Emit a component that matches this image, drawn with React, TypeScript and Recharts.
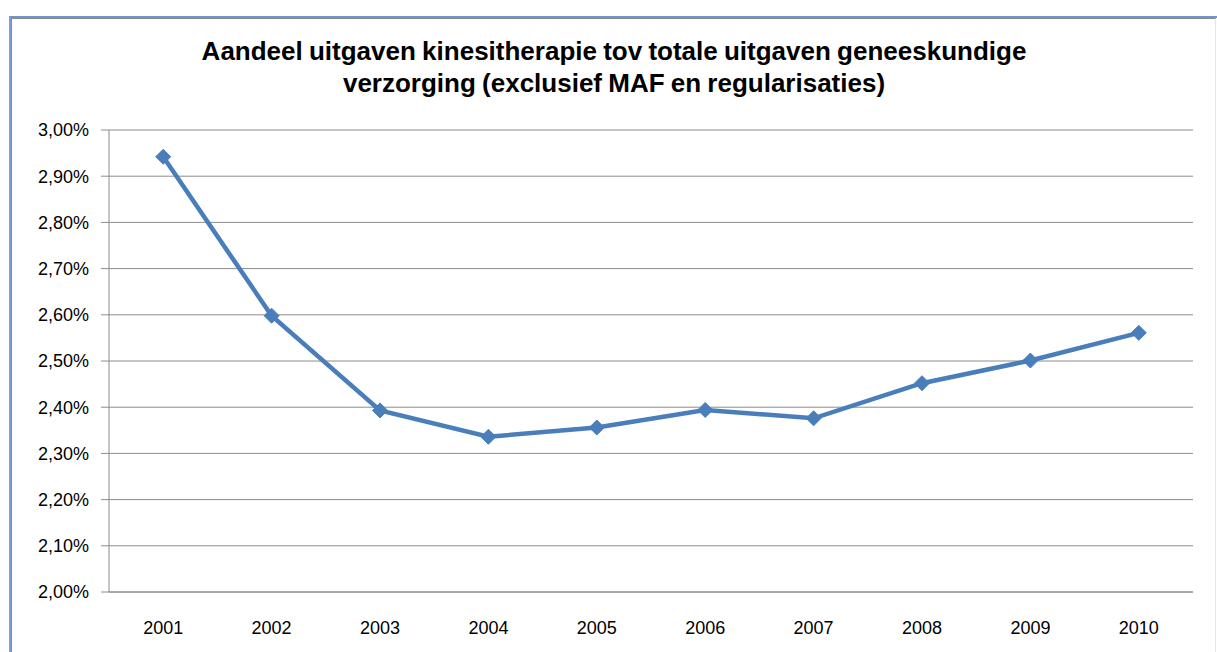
import React from 'react';
import { LineChart, Line, XAxis, YAxis, CartesianGrid } from 'recharts';

const years = [2001, 2002, 2003, 2004, 2005, 2006, 2007, 2008, 2009, 2010];
const shares = [2.942, 2.598, 2.393, 2.336, 2.356, 2.394, 2.376, 2.452, 2.501, 2.561];
const yTicks = [2.0, 2.1, 2.2, 2.3, 2.4, 2.5, 2.6, 2.7, 2.8, 2.9, 3.0];
const boundaryTicks = [2000.5, 2001.5, 2002.5, 2003.5, 2004.5, 2005.5, 2006.5, 2007.5, 2008.5, 2009.5, 2010.5];
const titleLines = [
  'Aandeel uitgaven kinesitherapie tov totale uitgaven geneeskundige',
  'verzorging (exclusief MAF en regularisaties)',
];

const data = years.map((y, i) => ({ year: y, value: shares[i] }));

const Diamond = (props: any) => {
  const { cx, cy } = props;
  if (cx == null || cy == null) return null;
  const r = 7.5;
  return (
    <polygon
      points={`${cx},${cy - r} ${cx + r},${cy} ${cx},${cy + r} ${cx - r},${cy}`}
      fill="#4A7EBB"
      stroke="#4A7EBB"
      strokeWidth={1}
    />
  );
};

const font = '"Liberation Sans", Arial, sans-serif';

export default function App() {
  return (
    <div style={{ position: 'absolute', left: 0, top: 0, width: 1217, height: 652, background: '#fff', overflow: 'hidden' }}>
      <div style={{ position: 'absolute', left: 9, top: 16, width: 1210, height: 700, borderLeft: '2px solid #7BA0D4', borderTop: '2px solid #6F95CD', boxSizing: 'border-box' }} />
      <div style={{ position: 'absolute', left: 11, top: 18, width: 1205, height: 700, borderLeft: '1px solid #8a8a8a', borderTop: '1px solid #8a8a8a', borderRight: '1px solid #e4e4e4', boxSizing: 'border-box' }} />
      <div style={{ position: 'absolute', left: 0, top: 0 }}>
        <LineChart width={1217} height={652} data={data} margin={{ top: 130, right: 24, bottom: 20, left: 0 }}>
          <CartesianGrid vertical={false} stroke="#8c8c8c" strokeWidth={1} />
          <XAxis
            xAxisId="labels"
            dataKey="year"
            type="number"
            domain={[2000.5, 2010.5]}
            ticks={years}
            tickLine={false}
            axisLine={{ stroke: '#8c8c8c' }}
            tickSize={6}
            tickMargin={23}
            height={40}
            tick={{ fill: '#000', fontSize: 18, fontFamily: font }}
            interval={0}
          />
          <XAxis
            xAxisId="bounds"
            dataKey="year"
            type="number"
            domain={[2000.5, 2010.5]}
            ticks={boundaryTicks}
            tickFormatter={() => ''}
            tickLine={{ stroke: '#8c8c8c' }}
            axisLine={false}
            tickSize={6}
            height={0}
            interval={0}
            orientation="bottom"
          />
          <YAxis
            domain={[2.0, 3.0]}
            ticks={yTicks}
            width={109}
            tickSize={8}
            tickMargin={12}
            interval={0}
            tickLine={{ stroke: '#8c8c8c' }}
            axisLine={{ stroke: '#8c8c8c' }}
            tick={{ fill: '#000', fontSize: 18, fontFamily: font }}
            tickFormatter={(v: number) => v.toFixed(2).replace('.', ',') + '%'}
          />
          <Line
            xAxisId="labels"
            type="linear"
            dataKey="value"
            stroke="#4A7EBB"
            strokeWidth={4.5}
            dot={<Diamond />}
            activeDot={false}
            isAnimationActive={false}
          />
        </LineChart>
      </div>
      {titleLines.map((t, i) => (
        <div
          key={i}
          style={{
            position: 'absolute',
            left: 0,
            width: 1228,
            top: i === 0 ? 36 : 68,
            textAlign: 'center',
            fontFamily: font,
            fontWeight: 'bold',
            fontSize: 26,
            letterSpacing: 0,
            wordSpacing: -1,
            lineHeight: '30px',
            color: '#000',
            whiteSpace: 'nowrap',
          }}
        >
          {t}
        </div>
      ))}
    </div>
  );
}
